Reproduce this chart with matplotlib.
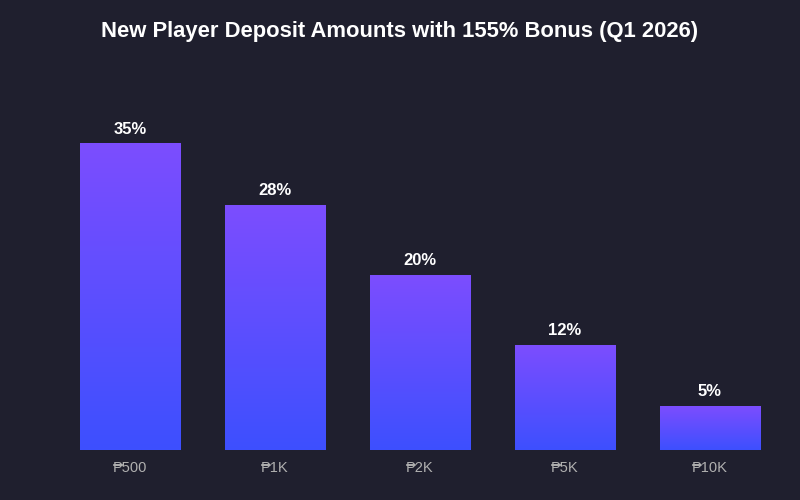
import matplotlib
matplotlib.use("Agg")
import matplotlib.pyplot as plt
import numpy as np
from matplotlib.colors import LinearSegmentedColormap

categories = ["₱500", "₱1K", "₱2K", "₱5K", "₱10K"]
shares = [35, 28, 20, 12, 5]
value_labels = ["35%", "28%", "20%", "12%", "5%"]

bg = "#1f1f2e"
top_color = "#7c4dff"
bottom_color = "#3d50fe"

plt.rcParams['font.family'] = ['Liberation Sans', 'DejaVu Sans']

fig = plt.figure(figsize=(8, 5), dpi=100, facecolor=bg)
ax = fig.add_axes([57.5 / 800, 0.1, 725 / 800, 0.7])
ax.set_facecolor(bg)

x = np.arange(len(categories))
bars = ax.bar(x, shares, width=0.69, color="none", edgecolor="none")

# vertical gradient inside each bar, blue at bottom -> purple at top
cmap = LinearSegmentedColormap.from_list("grad", [bottom_color, top_color])
grad = np.linspace(0, 1, 256).reshape(-1, 1)
for rect in bars:
    x0, y0 = rect.get_x(), rect.get_y()
    w, h = rect.get_width(), rect.get_height()
    ax.imshow(grad, cmap=cmap, origin="lower", aspect="auto",
              extent=[x0, x0 + w, y0, y0 + h], zorder=2)

for xi, v, lab in zip(x, shares, value_labels):
    ax.annotate(lab, (xi, v), xytext=(0, 5), textcoords="offset points",
                ha="center", va="bottom", color="white",
                fontsize=12, fontweight="bold")

ax.set_xlim(-0.5, len(categories) - 0.5)
ax.set_ylim(0, 40)
ax.set_xticks(x)
ax.set_xticklabels(categories, color="#b0b0b0", fontsize=10.5)
ax.tick_params(axis="x", length=0, pad=8)
ax.set_yticks([])
for s in ax.spines.values():
    s.set_visible(False)

fig.text(0.5, 0.938, "New Player Deposit Amounts with 155% Bonus (Q1 2026)",
         ha="center", va="center", color="white", fontsize=15.8, fontweight="bold")

fig.savefig("out.png", dpi=100, facecolor=bg)
